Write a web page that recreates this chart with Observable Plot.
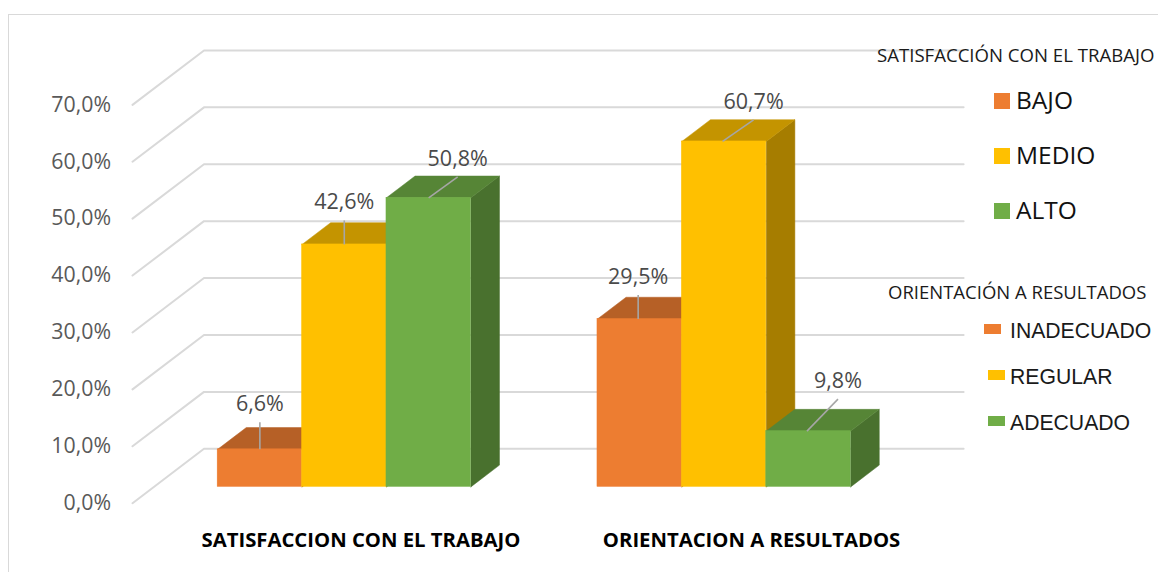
<!DOCTYPE html>
<html>
<head>
<meta charset="utf-8">
<script src="https://cdn.jsdelivr.net/npm/d3@7"></script>
<script src="https://cdn.jsdelivr.net/npm/@observablehq/plot@0.6"></script>
<style>
  html, body { margin: 0; padding: 0; background: #fff; }
  #chart { position: relative; width: 1158px; height: 572px; overflow: hidden; font-family: "Open Sans", sans-serif; }
  #chart svg { position: absolute; left: 0; top: 0; }
  #border { position: absolute; left: 8px; top: 14px; right: -4px; bottom: -4px; border: 1.5px solid #D9D9D9; }
  .lg { position: absolute; white-space: nowrap; transform: translateY(-50%); line-height: 1; }
  .sw { position: absolute; }
</style>
</head>
<body>
<div id="chart"><div id="border"></div></div>
<script>
// ---- data ----
const categories = ["SATISFACCION CON EL TRABAJO", "ORIENTACION A RESULTADOS"];
const satisfaccion = [6.6, 42.6, 50.8];
const orientacion = [29.5, 60.7, 9.8];
const valueTicks = [0, 10, 20, 30, 40, 50, 60, 70];
const tickLabels = ["0,0%", "10,0%", "20,0%", "30,0%", "40,0%", "50,0%", "60,0%", "70,0%"];
const satisfaccionLegend = ["BAJO", "MEDIO", "ALTO"];
const orientacionLegend = ["INADECUADO", "REGULAR", "ADECUADO"];
const satisfaccionTitle = "SATISFACCIÓN CON EL TRABAJO";
const orientacionTitle = "ORIENTACIÓN A RESULTADOS";

// ---- style ----
const fronts = ["#ED7D31", "#FFC000", "#70AD47"];
const tops = ["#B66026", "#C49400", "#568536"];
const sides = ["#9A5120", "#A67D00", "#49712E"];

// ---- layout of the pseudo-3D box ----
const barPx = 84.4, pctPx = 5.691;           // scale ratios
const depthX = 71.5 / barPx, depthY = 54.4 / pctPx;  // box depth in scale units
const near = 0.3, far = 0.7;                 // bars' depth inside the box
const groupStart = [0.755, 5.255];
const categoryAt = [2.707, 7.335];
const leaderShift = [[0, 0, 0], [-1.5, -1.5, -1.5]];
const leaderRun = [[0, 0, 29], [0, 31, 31]];
const leaderRise = [[27, 24, 21], [24, 21.5, 32]];
const p = (u, v, d) => ({x: u + d * depthX, y: v + d * depthY});

const series = [satisfaccion, orientacion];
const bars = series.flatMap((vals, g) => vals.map((v, i) => ({
  g, i, v, x0: groupStart[g] + i, x1: groupStart[g] + i + 1,
  text: v.toFixed(1).replace(".", ",") + "%"
})));

const gridPts = valueTicks.flatMap(t => [
  {t, ...p(0, t, 0)}, {t, ...p(0, t, 1)}, {t, ...p(9, t, 1)}
]);

const barMarks = bars.flatMap(b => [
  Plot.line([p(b.x1, 0, near), p(b.x1, 0, far), p(b.x1, b.v, far), p(b.x1, b.v, near), p(b.x1, 0, near)],
    {x: "x", y: "y", fill: sides[b.i], stroke: sides[b.i], strokeWidth: 0.5}),
  Plot.line([p(b.x0, b.v, near), p(b.x0, b.v, far), p(b.x1, b.v, far), p(b.x1, b.v, near), p(b.x0, b.v, near)],
    {x: "x", y: "y", fill: tops[b.i], stroke: tops[b.i], strokeWidth: 0.5}),
  Plot.rect([b], {
    x1: d => p(d.x0, 0, near).x, x2: d => p(d.x1, 0, near).x,
    y1: d => p(0, 0, near).y, y2: d => p(0, d.v, near).y,
    fill: fronts[b.i], stroke: fronts[b.i], strokeWidth: 0.5
  })
]);

const leaders = bars.map(b => {
  const s = p((b.x0 + b.x1) / 2 + leaderShift[b.g][b.i] / barPx, b.v, near);
  return {
    ...b, sx: s.x, sy: s.y,
    ex: s.x + leaderRun[b.g][b.i] / barPx,
    ey: s.y + leaderRise[b.g][b.i] / pctPx
  };
});

const plot = Plot.plot({
  width: 1158, height: 572,
  marginLeft: 0, marginRight: 0, marginTop: 0, marginBottom: 0,
  x: {domain: [0, 9], range: [132, 132 + 9 * barPx], axis: null},
  y: {domain: [0, 70], range: [502.7, 502.7 - 70 * pctPx], axis: null},
  style: {background: "transparent", fontFamily: '"Open Sans", sans-serif'},
  marks: [
    Plot.line(gridPts, {x: "x", y: "y", z: "t", stroke: "#D9D9D9", strokeWidth: 2}),
    Plot.text(valueTicks, {
      x: () => 0, y: d => d, dx: -21.5, textAnchor: "end",
      text: (d, i) => tickLabels[i], fill: "#595959", fontSize: 21.3
    }),
    ...barMarks,
    Plot.link(leaders, {x1: "sx", y1: "sy", x2: "ex", y2: "ey", stroke: "#A6A6A6", strokeWidth: 1.6}),
    Plot.text(leaders, {x: "ex", y: "ey", dy: -18, text: "text", fill: "#4A4A4A", fontSize: 21.5}),
    Plot.text(categories, {
      x: (d, i) => categoryAt[i], y: () => 0, dy: 37.3,
      text: d => d, fill: "#000", fontWeight: 700, fontSize: 20.3
    })
  ]
});

const chart = document.getElementById("chart");
chart.appendChild(plot);

// ---- legends, laid over the chart ----
function label(text, x, cy, size, family, color) {
  const el = document.createElement("div");
  el.className = "lg";
  el.textContent = text;
  el.style.cssText = `left:${x}px;top:${cy}px;font-size:${size}px;font-family:${family};color:${color}`;
  chart.appendChild(el);
}
function swatch(x, y, w, h, background) {
  const el = document.createElement("div");
  el.className = "sw";
  el.style.cssText = `left:${x}px;top:${y}px;width:${w}px;height:${h}px;background:${background}`;
  chart.appendChild(el);
}
const OS = '"Open Sans",sans-serif', LS = '"Liberation Sans",sans-serif';
label(satisfaccionTitle, 877, 55, 18.6, OS, "#1a1a1a");
satisfaccionLegend.forEach((t, i) => {
  swatch(994, 93 + 55 * i, 16, 16, fronts[i]);
  label(t, 1016, 99.5 + 55 * i, 24.5, OS, "#111");
});
label(orientacionTitle, 888, 292, 18.5, OS, "#1a1a1a");
[[983.5, 323.5], [987.7, 369.5], [987.7, 415.7]].forEach(([x, y], i) => {
  swatch(x, y, 17.5, 10.5, fronts[i]);
});
orientacionLegend.forEach((t, i) => {
  label(t, 1010, [331, 376.5, 422.5][i], 21.2, LS, "#1a1a1a");
});
</script>
</body>
</html>
